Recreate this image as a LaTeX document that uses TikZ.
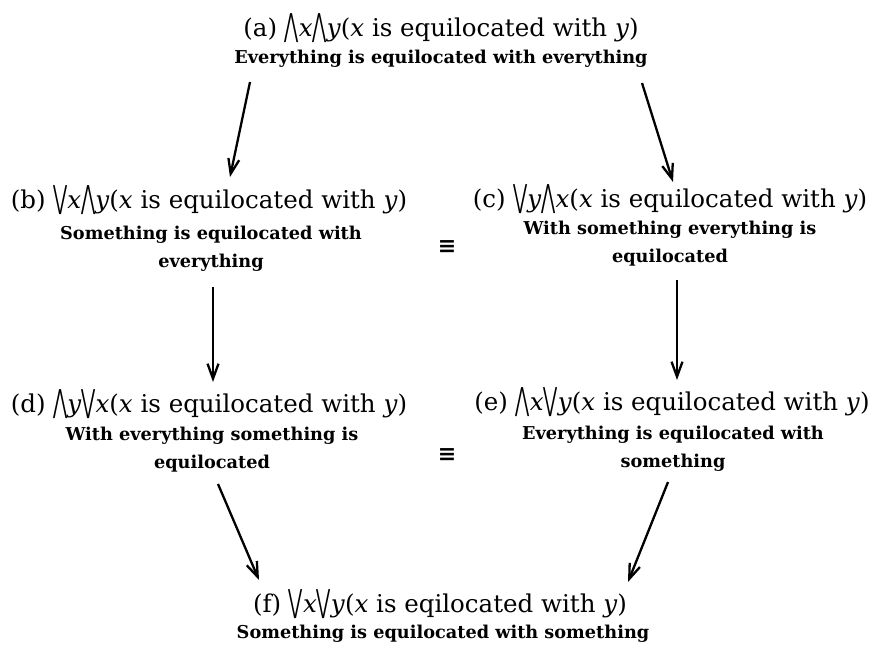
\documentclass[tikz,border=0pt]{standalone}
\usepackage{graphicx}
\usepackage{fontspec}
\setmainfont{DejaVu Serif}
\newfontfamily\symfont{DejaVu Sans}
\usetikzlibrary{arrows.meta}
\newcommand\QA{{\symfont\scalebox{0.7}[1.3]{⋀}}}
\newcommand\QE{{\symfont\scalebox{0.7}[1.3]{⋁}}}
\newcommand\formula[3]{#1 #2(\textit{x} is #3 with \textit{y})}
\begin{document}
\begin{tikzpicture}[x=1pt,y=-1pt,
  ttl/.style={anchor=base, inner sep=0pt, font=\fontsize{24.5}{28}\selectfont},
  sub/.style={anchor=base, inner sep=0pt, align=center, font=\fontsize{17.7}{28}\selectfont\bfseries},
  eqv/.style={inner sep=0pt, font=\symfont\bfseries\fontsize{22}{24}\selectfont},
  arr/.style={line width=2.3pt, -{Straight Barb[length=15pt,width=11pt]}}]
\fill[white] (0,0) rectangle (877,648);
\useasboundingbox (0,0) rectangle (877,648);
% (a)
\node[ttl] (a1) at (441,36) {\formula{(a)}{\QA\textit{x}\QA\textit{y}}{equilocated}};
\node[sub] (a2) at (441,63) {Everything is equilocated with everything};
% (b)
\node[ttl] (b1) at (209,208) {\formula{(b)}{\QE\textit{x}\QA\textit{y}}{equilocated}};
\node[sub] (b2) at (211,267) {Something is equilocated with\\everything};
% (c)
\node[ttl] (c1) at (670,207) {\formula{(c)}{\QE\textit{y}\QA\textit{x}}{equilocated}};
\node[sub] (c2) at (670,262) {With something everything is\\equilocated};
% (d)
\node[ttl] (d1) at (209,412) {\formula{(d)}{\QA\textit{y}\QE\textit{x}}{equilocated}};
\node[sub] (d2) at (212,468) {With everything something is\\equilocated};
% (e)
\node[ttl] (e1) at (672,410) {\formula{(e)}{\QA\textit{x}\QE\textit{y}}{equilocated}};
\node[sub] (e2) at (673,467) {Everything is equilocated with\\something};
% (f)
\node[ttl] (f1) at (440,612) {\formula{(f)}{\QE\textit{x}\QE\textit{y}}{eqilocated}};
\node[sub] (f2) at (443,638) {Something is equilocated with something};
% equivalences
\node[eqv] (q1) at (447,247) {≡};
\node[eqv] (q2) at (447,455) {≡};
% arrows
\draw[arr] ([shift={(-191,19)}]a2.base) -- ([shift={(21,-31)}]b1.base);
\draw[arr] ([shift={(201,20)}]a2.base) -- ([shift={(3,-25)}]c1.base);
\draw[arr] ([shift={(2,20)}]b2.base) -- ([shift={(4,-30)}]d1.base);
\draw[arr] ([shift={(7,18)}]c2.base) -- ([shift={(5,-30)}]e1.base);
\draw[arr] ([shift={(6,16)}]d2.base) -- ([shift={(-181,-32)}]f1.base);
\draw[arr] ([shift={(-5,15)}]e2.base) -- ([shift={(188,-30)}]f1.base);
\end{tikzpicture}
\end{document}
